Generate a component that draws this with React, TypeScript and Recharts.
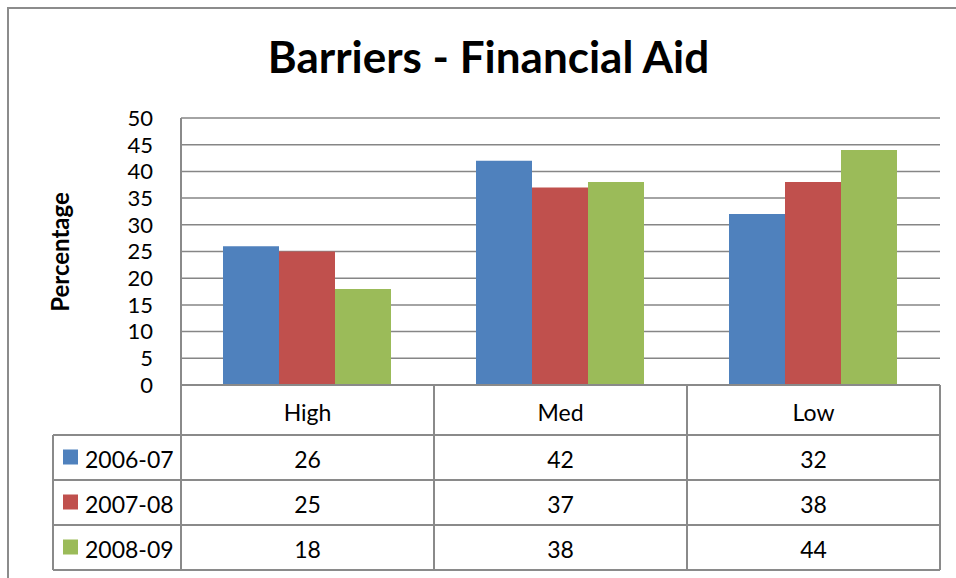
import React from 'react';
import { BarChart, Bar, XAxis, YAxis, CartesianGrid } from 'recharts';

const categories = ['High', 'Med', 'Low'];
const seriesNames = ['2006-07', '2007-08', '2008-09'];
const values2006 = [26, 42, 32];
const values2007 = [25, 37, 38];
const values2008 = [18, 38, 44];
const yTicks = [0, 5, 10, 15, 20, 25, 30, 35, 40, 45, 50];

const seriesColors = ['#4F81BD', '#C0504D', '#9BBB59'];
const seriesValues = [values2006, values2007, values2008];

const data = categories.map((cat, i) => ({
  cat,
  s0: values2006[i],
  s1: values2007[i],
  s2: values2008[i],
}));

const W = 956;
const H = 578;
const PLOT_LEFT = 181;
const PLOT_RIGHT = 940;
const LINE = '#8a8a8a';
const FONT = 'Lato, "Open Sans", sans-serif';

const bandWidth = (PLOT_RIGHT - PLOT_LEFT) / categories.length;
const HEADER_H = 50;
const ROW_H = 45;
const LEGEND_W = 128;

function TableTick(props: any): React.ReactElement {
  const { x, y, payload } = props;
  const idx = payload.index;
  const left = x - bandWidth / 2;
  const right = x + bandWidth / 2;
  const bottom = y + HEADER_H + ROW_H * seriesNames.length;

  const rowLines = [0, 1, 2, 3].map((r) => y + HEADER_H + ROW_H * r);

  return (
    <g>
      <line x1={right} y1={y} x2={right} y2={bottom} stroke={LINE} strokeWidth={2} />
      {rowLines.map((ry, r) => (
        <line key={r} x1={left} y1={ry} x2={right} y2={ry} stroke={LINE} strokeWidth={2} />
      ))}
      <text x={x} y={y + 27} textAnchor="middle" dominantBaseline="central" fontSize={23} fontFamily={FONT} fill="#000">
        {payload.value}
      </text>
      {seriesValues.map((vals, r) => (
        <text
          key={r}
          x={x}
          y={y + HEADER_H + ROW_H * r + ROW_H / 2 + 1}
          textAnchor="middle"
          dominantBaseline="central"
          fontSize={23}
          fontFamily={FONT}
          fill="#000"
        >
          {vals[idx]}
        </text>
      ))}
      {idx === 0 && (
        <g>
          <line x1={left} y1={y} x2={left} y2={bottom} stroke={LINE} strokeWidth={2} />
          <line x1={left - LEGEND_W} y1={y + HEADER_H} x2={left - LEGEND_W} y2={bottom} stroke={LINE} strokeWidth={2} />
          {rowLines.map((ry, r) => (
            <line key={r} x1={left - LEGEND_W} y1={ry} x2={left} y2={ry} stroke={LINE} strokeWidth={2} />
          ))}
          {seriesNames.map((name, r) => {
            const cy = y + HEADER_H + ROW_H * r + ROW_H / 2;
            return (
              <g key={name}>
                <rect x={left - LEGEND_W + 10} y={cy - 8} width={15} height={15} fill={seriesColors[r]} />
                <text x={left - LEGEND_W + 32} y={cy + 1} dominantBaseline="central" fontSize={23} fontFamily={FONT} fill="#000">
                  {name}
                </text>
              </g>
            );
          })}
        </g>
      )}
    </g>
  );
}

export default function App(): React.ReactElement {
  return (
    <div style={{ position: 'absolute', left: 0, top: 0, width: W, height: H, overflow: 'hidden', background: '#fff' }}>
      <div
        style={{
          position: 'absolute',
          left: 7,
          top: 7,
          width: 1100,
          height: 1000,
          border: '2px solid #8c8c8c',
        }}
      />
      <div
        style={{
          position: 'absolute',
          left: 0,
          top: 33,
          width: 977,
          textAlign: 'center',
          fontFamily: FONT,
          fontWeight: 700,
          fontSize: 44,
          lineHeight: '46px',
          color: '#000',
        }}
      >
        Barriers - Financial Aid
      </div>
      <div
        style={{
          position: 'absolute',
          left: -40,
          top: 239,
          width: 200,
          textAlign: 'center',
          fontFamily: FONT,
          fontWeight: 700,
          fontSize: 24,
          lineHeight: '26px',
          transform: 'rotate(-90deg)',
          color: '#000',
        }}
      >
        Percentage
      </div>
      <div style={{ position: 'absolute', left: 0, top: 0 }}>
        <BarChart
          width={W}
          height={H}
          data={data}
          margin={{ top: 118, right: W - PLOT_RIGHT, bottom: 0, left: PLOT_LEFT - 60 }}
          barCategoryGap="16.6%"
          barGap={0}
        >
          <CartesianGrid vertical={false} stroke="#868686" strokeWidth={1.5} />
          <XAxis
            dataKey="cat"
            height={193}
            tickLine={false}
            tickSize={0}
            tickMargin={0}
            axisLine={{ stroke: LINE, strokeWidth: 2 }}
            tick={<TableTick />}
            interval={0}
          />
          <YAxis
            width={60}
            domain={[0, 50]}
            ticks={yTicks}
            interval={0}
            tickLine={false}
            tickSize={0}
            tickMargin={28}
            axisLine={{ stroke: LINE, strokeWidth: 2 }}
            tick={{ fill: '#000', fontSize: 22, fontFamily: FONT }}
          />
          {seriesNames.map((name, i) => (
            <Bar key={name} dataKey={`s${i}`} name={name} fill={seriesColors[i]} isAnimationActive={false} />
          ))}
        </BarChart>
      </div>
    </div>
  );
}
